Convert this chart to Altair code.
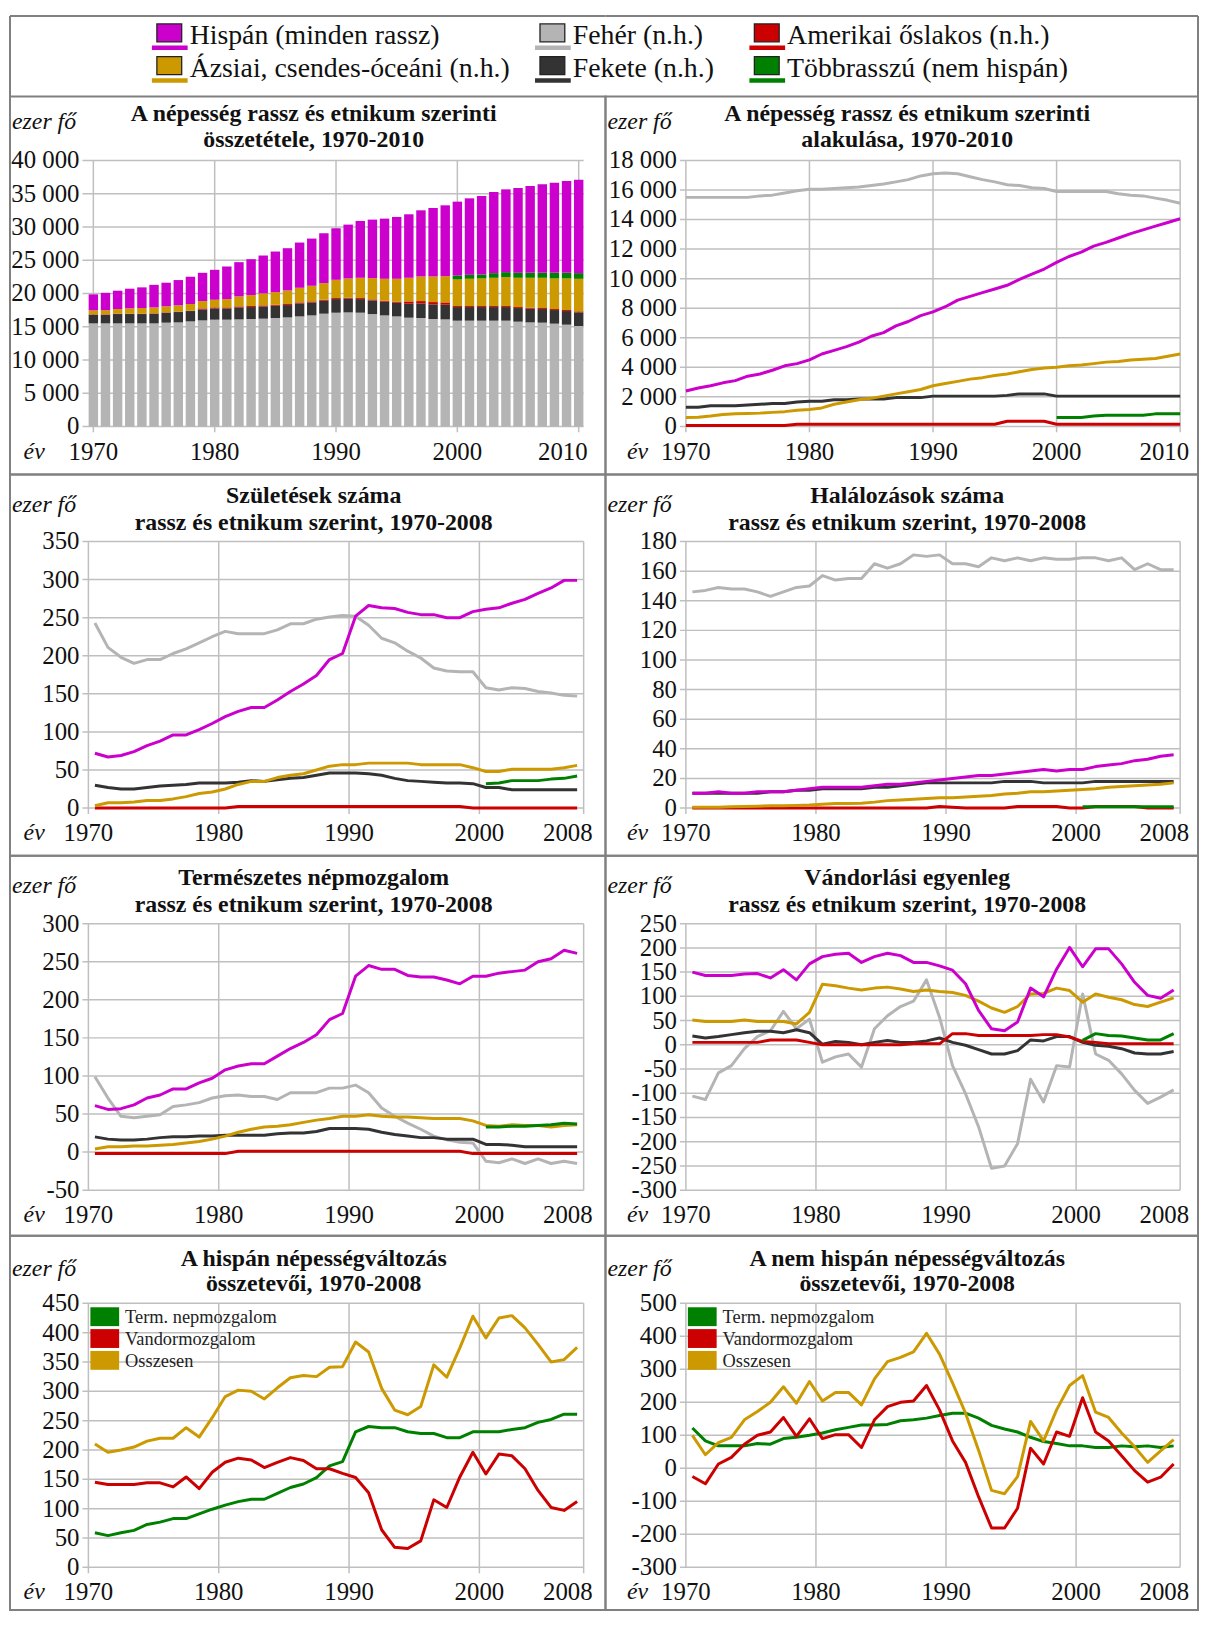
import altair as alt
import pandas as pd

# ---------------- data (thousand persons) ----------------
YEARS_POP = list(range(1970, 2011))          # 41 years, panels 1-2
YEARS_VIT = list(range(1970, 2008))          # 38 categories, panels 3-8

HISP = "Hispán (minden rassz)"
ASIAN = "Ázsiai, csendes-óceáni (n.h.)"
WHITE = "Fehér (n.h.)"
BLACK = "Fekete (n.h.)"
AMIND = "Amerikai őslakos (n.h.)"
MULTI = "Többrasszú (nem hispán)"
LEGEND_ORDER = [HISP, WHITE, AMIND, ASIAN, BLACK, MULTI]
DRAW_ORDER = [WHITE, BLACK, AMIND, ASIAN, MULTI, HISP]
COLORS = {HISP: "#CC00CC", ASIAN: "#CC9900", WHITE: "#B4B4B4",
          BLACK: "#333333", AMIND: "#CC0000", MULTI: "#008000"}

MULTI_FIRST_YEAR = 2000

POP = {
    WHITE: [15500, 15500, 15500, 15500, 15500, 15500, 15600, 15650, 15800, 15950,
            16050, 16050, 16100, 16150, 16200, 16300, 16400, 16550, 16700, 16950,
            17100, 17150, 17100, 16900, 16700, 16550, 16350, 16300, 16150, 16100,
            15900, 15900, 15900, 15900, 15900, 15750, 15650, 15600, 15450, 15300, 15100],
    BLACK: [1300, 1300, 1400, 1400, 1400, 1450, 1500, 1550, 1550, 1650,
            1700, 1700, 1800, 1800, 1850, 1850, 1850, 1950, 1950, 1950,
            2050, 2050, 2050, 2050, 2050, 2050, 2100, 2200, 2200, 2200,
            2050, 2050, 2050, 2050, 2050, 2050, 2050, 2050, 2050, 2050, 2050],
    AMIND: [60, 60, 60, 60, 60, 60, 60, 60, 60, 150,
            150, 150, 150, 150, 150, 150, 150, 150, 150, 150,
            150, 150, 150, 150, 150, 150, 350, 350, 350, 350,
            150, 150, 150, 150, 150, 150, 150, 150, 150, 150, 150],
    ASIAN: [600, 620, 700, 800, 850, 880, 900, 950, 1000, 1100,
            1150, 1250, 1500, 1650, 1800, 1900, 2050, 2200, 2350, 2500,
            2750, 2900, 3050, 3200, 3300, 3450, 3550, 3700, 3850, 3950,
            4000, 4100, 4150, 4250, 4350, 4400, 4500, 4550, 4600, 4750, 4900],
    MULTI: [600, 600, 600, 700, 750, 750, 750, 750, 850, 850, 850],
    HISP: [2400, 2600, 2750, 2950, 3100, 3400, 3550, 3800, 4100, 4250,
           4500, 4900, 5150, 5400, 5700, 6100, 6350, 6800, 7100, 7500,
           7750, 8100, 8550, 8800, 9050, 9300, 9550, 9950, 10300, 10650,
           11100, 11500, 11800, 12200, 12450, 12750, 13050, 13300, 13550, 13800, 14050],
}

BIRTHS = {
    WHITE: [243, 211, 198, 190, 195, 195, 203, 209, 217, 225,
            232, 229, 229, 229, 234, 242, 242, 248, 251, 253,
            252, 240, 223, 217, 206, 197, 184, 180, 179, 179,
            158, 155, 158, 157, 153, 151, 148, 147],
    BLACK: [30, 27, 25, 25, 27, 29, 30, 31, 33, 33,
            33, 34, 36, 35, 37, 39, 40, 43, 46, 46,
            46, 45, 43, 39, 36, 35, 34, 33, 33, 32,
            27, 27, 24, 24, 24, 24, 24, 24],
    AMIND: [0, 0, 0, 0, 0, 0, 0, 0, 0, 0,
            0, 2, 2, 2, 2, 2, 2, 2, 2, 2,
            2, 2, 2, 2, 2, 2, 2, 2, 2, 0,
            0, 0, 0, 0, 0, 0, 0, 0],
    ASIAN: [3, 7, 7, 8, 10, 10, 12, 15, 19, 21,
            25, 31, 35, 35, 40, 43, 45, 50, 55, 57,
            57, 59, 59, 59, 59, 57, 57, 57, 57, 53,
            48, 48, 51, 51, 51, 51, 53, 56],
    MULTI: [32, 33, 36, 36, 36, 38, 39, 42],
    HISP: [72, 67, 69, 74, 82, 88, 96, 96, 103, 111,
           120, 127, 132, 132, 142, 153, 163, 174, 195, 203,
           252, 266, 263, 262, 257, 254, 254, 250, 250, 258,
           261, 263, 269, 274, 282, 289, 299, 299],
}

DEATHS = {
    WHITE: [146, 147, 149, 148, 148, 146, 143, 146, 149, 150,
            157, 154, 155, 155, 165, 162, 165, 171, 170, 171,
            165, 165, 163, 169, 167, 169, 167, 169, 168, 168,
            169, 169, 167, 169, 161, 165, 161, 161],
    BLACK: [10, 10, 10, 10, 10, 10, 11, 11, 12, 12,
            13, 13, 13, 13, 14, 14, 15, 16, 17, 17,
            17, 17, 17, 17, 18, 18, 18, 17, 17, 17,
            17, 18, 18, 18, 18, 18, 18, 18],
    AMIND: [0, 0, 0, 0, 0, 0, 0, 0, 0, 0,
            0, 0, 0, 0, 0, 0, 0, 0, 0, 1,
            0.5, 0, 0, 0, 0, 1, 1, 1, 1, 0,
            0, 1, 1, 1, 1, 0, 0, 0],
    ASIAN: [0.5, 0.5, 0.5, 0.8, 1, 1.2, 1.5, 1.5, 1.8, 2,
            2.5, 3, 3, 3.2, 4, 5, 5.5, 6, 6.5, 7,
            7, 7.5, 8, 8.5, 9.5, 10, 11, 11, 11.5, 12,
            12.5, 13, 14, 14.5, 15, 15.5, 16, 17],
    MULTI: [0.8, 0.8, 0.8, 0.8, 0.8, 0.8, 0.8, 0.8],
    HISP: [10, 10, 11, 10, 10, 11, 11, 11, 12, 13,
           14, 14, 14, 14, 15, 16, 16, 17, 18, 19,
           20, 21, 22, 22, 23, 24, 25, 26, 25, 26,
           26, 28, 29, 30, 32, 33, 35, 36],
}

NATURAL = {
    WHITE: [99, 71, 47, 45, 47, 49, 60, 62, 65, 71,
            74, 75, 73, 73, 69, 78, 78, 78, 84, 84,
            88, 78, 58, 47, 38, 30, 21, 16, 13, 12,
            -12, -14, -9, -15, -9, -15, -12, -15],
    BLACK: [20, 17, 16, 16, 17, 19, 20, 20, 21, 21,
            22, 22, 22, 22, 24, 25, 25, 27, 31, 31,
            31, 30, 26, 23, 21, 19, 19, 17, 17, 17,
            10, 10, 9, 7, 7, 7, 7, 7],
    AMIND: [-2, -2, -2, -2, -2, -2, -2, -2, -2, -2,
            -2, 1, 1, 1, 1, 1, 1, 1, 1, 1,
            1, 1, 1, 1, 1, 1, 1, 1, 1, -2,
            -2, -2, -2, -2, -2, -2, -2, -2],
    ASIAN: [4, 7, 7, 8, 8, 9, 10, 12, 14, 17,
            21, 26, 30, 33, 34, 36, 39, 42, 44, 47,
            47, 49, 47, 46, 46, 45, 44, 44, 44, 41,
            35, 34, 36, 35, 35, 33, 35, 36],
    MULTI: [33, 33, 34, 34, 35, 36, 38, 37],
    HISP: [61, 56, 57, 62, 71, 75, 83, 83, 91, 97,
           108, 113, 116, 116, 126, 136, 144, 154, 174, 182,
           231, 245, 240, 240, 232, 230, 230, 226, 221, 231,
           231, 235, 237, 239, 250, 254, 265, 261],
}

MIGRATION = {
    WHITE: [-106, -113, -58, -43, -8, 17, 29, 69, 33, 53,
            -36, -25, -19, -46, 33, 60, 79, 90, 134, 57,
            -43, -101, -169, -255, -250, -204, -71, -118, -43, -46,
            105, -19, -32, -60, -94, -121, -108, -93],
    BLACK: [18, 14, 17, 21, 25, 28, 28, 25, 31, 25,
            1, 7, 5, 0, 5, 9, 5, 5, 8, 14,
            5, -1, -10, -19, -19, -12, 10, 8, 17, 17,
            5, -1, -3, -8, -17, -19, -19, -14],
    AMIND: [5, 5, 5, 5, 5, 5, 10, 10, 10, 5,
            0, 0, 0, 0, 0, 0, 0, 2, 2, 2,
            23, 23, 19, 19, 19, 19, 19, 21, 21, 16,
            7, 5, 2, 2, 2, 2, 2, 2],
    ASIAN: [51, 48, 48, 48, 51, 48, 48, 48, 43, 67,
            125, 122, 117, 113, 117, 119, 115, 110, 113, 110,
            108, 102, 90, 76, 67, 79, 105, 106, 117, 112,
            88, 105, 98, 93, 83, 79, 88, 97],
    MULTI: [9, 23, 19, 18, 14, 10, 10, 23],
    HISP: [150, 143, 143, 143, 146, 147, 138, 155, 134, 167,
           182, 187, 189, 170, 182, 189, 184, 170, 170, 163,
           154, 126, 71, 33, 29, 47, 117, 99, 156, 201,
           161, 198, 198, 167, 129, 102, 96, 113],
}

COMP_NAMES = ["Term. nepmozgalom", "Vandormozgalom", "Osszesen"]
COMP_COLORS = ["#008000", "#CC0000", "#CC9900"]
HISP_COMP = {
    "Term. nepmozgalom": [59, 54, 59, 63, 73, 77, 83, 83, 91, 99,
                          106, 112, 116, 116, 126, 136, 142, 153, 173, 180,
                          231, 240, 238, 238, 231, 228, 228, 221, 221, 231,
                          231, 231, 235, 238, 247, 252, 261, 261],
    "Vandormozgalom": [145, 141, 141, 141, 144, 144, 137, 154, 134, 162,
                       179, 186, 183, 170, 179, 187, 182, 168, 168, 160,
                       153, 127, 64, 34, 32, 45, 115, 102, 154, 196,
                       159, 193, 190, 168, 131, 102, 97, 112],
    "Osszesen": [210, 196, 200, 205, 215, 220, 220, 238, 222, 255,
                 291, 302, 300, 287, 306, 323, 327, 325, 341, 342,
                 384, 367, 305, 268, 260, 274, 345, 324, 374, 428,
                 391, 425, 429, 408, 380, 350, 354, 375],
}
NONHISP_COMP = {
    "Term. nepmozgalom": [122, 83, 68, 68, 68, 75, 73, 90, 94, 100,
                          107, 117, 124, 131, 131, 133, 144, 147, 152, 160,
                          167, 167, 152, 130, 119, 110, 94, 81, 75, 68,
                          68, 63, 63, 68, 65, 68, 63, 68],
    "Vandormozgalom": [-25, -47, 13, 33, 73, 100, 110, 154, 97, 150,
                       90, 102, 102, 63, 147, 187, 200, 204, 251, 177,
                       83, 18, -86, -181, -181, -121, 61, 13, 110, 97,
                       214, 110, 83, 38, -7, -42, -27, 13],
    "Osszesen": [100, 41, 78, 94, 147, 172, 200, 247, 197, 263,
                 204, 230, 230, 192, 271, 323, 336, 353, 409, 346,
                 259, 167, 55, -67, -77, -25, 142, 83, 177, 251,
                 281, 170, 154, 107, 65, 18, 53, 87],
}

TITLES = [
    ["A népesség rassz és etnikum szerinti", "összetétele, 1970-2010"],
    ["A népesség rassz és etnikum szerinti", "alakulása, 1970-2010"],
    ["Születések száma", "rassz és etnikum szerint, 1970-2008"],
    ["Halálozások száma", "rassz és etnikum szerint, 1970-2008"],
    ["Természetes népmozgalom", "rassz és etnikum szerint, 1970-2008"],
    ["Vándorlási egyenleg", "rassz és etnikum szerint, 1970-2008"],
    ["A hispán népességváltozás", "összetevői, 1970-2008"],
    ["A nem hispán népességváltozás", "összetevői, 1970-2008"],
]

def thousands(v):
    s = f"{abs(v):,}".replace(",", " ")
    return ("-" if v < 0 else "") + s

Y_TICKS = [
    list(range(0, 40001, 5000)),
    list(range(0, 18001, 2000)),
    list(range(0, 351, 50)),
    list(range(0, 181, 20)),
    list(range(-50, 301, 50)),
    list(range(-300, 251, 50)),
    list(range(0, 451, 50)),
    list(range(-300, 501, 100)),
]
X_LABELS_POP = ["1970", "1980", "1990", "2000", "2010"]
X_TICKS_POP = [1970, 1980, 1990, 2000, 2010]
X_LABELS_VIT = ["1970", "1980", "1990", "2000", "2008"]
X_TICKS_VIT = [1969.5, 1979.5, 1989.5, 1999.5, 2007.5]   # category boundaries

# ---------------- style / layout ----------------
FONT = "Liberation Serif"
GRID = "#BFBFBF"
TXT = "#111111"
BORDER = "#808080"
W_L, W_R = 600, 597
H_HEAD = 81
ROW_H = [381, 384, 383, 377]
ROW_Y = [(64.5, 332.5), (67.5, 336), (68.5, 337), (68, 334)]
ROW_TY = [(18, 43.5), (21.5, 49), (22.5, 49.5), (23, 49)]
ROW_EZ = [26, 30.5, 30.5, 33]
ROW_XGAP = [26, 25, 25, 25]
TICK_FS = 25


def frame(idx, x_dom, x_ticks, x_labels):
    row, col = idx // 2, idx % 2
    W = W_L if col == 0 else W_R
    H = ROW_H[row]
    x0, x1 = (79, 578) if col == 0 else (81, 579)
    y0, y1 = ROW_Y[row]
    xgap = ROW_XGAP[row]
    yt = Y_TICKS[idx]
    xs = alt.Scale(domain=x_dom, range=[x0, x1], nice=False, zero=False)
    ys = alt.Scale(domain=[yt[0], yt[-1]], range=[y1, y0], nice=False, zero=False)
    gy = pd.DataFrame({"v": yt, "lab": [thousands(v) for v in yt]})
    gx = pd.DataFrame({"v": x_ticks, "lab": x_labels})
    ext = 6 if yt[0] == 0 else 0
    L = [
        alt.Chart(gy).mark_rule(color=GRID, strokeWidth=1.5).encode(
            y=alt.Y("v:Q", scale=ys, axis=None), x=alt.value(x0 - 6), x2=alt.value(x1)),
        alt.Chart(gx).mark_rule(color=GRID, strokeWidth=1.5).encode(
            x=alt.X("v:Q", scale=xs, axis=None), y=alt.value(y0), y2=alt.value(y1 + ext)),
        alt.Chart(gy).mark_text(align="right", baseline="middle", font=FONT, fontSize=TICK_FS, color=TXT).encode(
            y=alt.Y("v:Q", scale=ys, axis=None), x=alt.value(x0 - 9), text="lab:N"),
        alt.Chart(gx.iloc[:-1]).mark_text(align="center", baseline="middle", font=FONT, fontSize=TICK_FS,
                                          color=TXT).encode(
            x=alt.X("v:Q", scale=xs, axis=None), y=alt.value(y1 + xgap), text="lab:N"),
        alt.Chart(gx.iloc[-1:]).mark_text(align="right", baseline="middle", font=FONT, fontSize=TICK_FS,
                                          color=TXT, dx=9).encode(
            x=alt.X("v:Q", scale=xs, axis=None), y=alt.value(y1 + xgap), text="lab:N"),
    ]
    one = pd.DataFrame({"k": [0]})
    tcx = 306 if col == 0 else 304
    for line, ty in zip(TITLES[idx], ROW_TY[row]):
        L.append(alt.Chart(one).mark_text(text=line, align="center", baseline="middle", font=FONT,
                                          fontSize=24, fontWeight="bold", color=TXT).encode(
            x=alt.value(tcx), y=alt.value(ty)))
    L.append(alt.Chart(one).mark_text(text="ezer fő", align="left", baseline="middle", font=FONT,
                                      fontSize=24, fontStyle="italic", color=TXT).encode(
        x=alt.value(2), y=alt.value(ROW_EZ[row])))
    ev_x = x0 - 44 if col == 0 else x0 - 38
    L.append(alt.Chart(one).mark_text(text="év", align="right", baseline="middle", font=FONT,
                                      fontSize=24, fontStyle="italic", color=TXT).encode(
        x=alt.value(ev_x), y=alt.value(y1 + xgap)))
    return L, xs, ys, W, H, (x0, x1, y0, y1)


def line_layer(years, vals, color, xs, ys, first=None):
    yrs = years if first is None else list(range(first, first + len(vals)))
    df = pd.DataFrame({"year": yrs, "value": vals})
    return alt.Chart(df).mark_line(color=color, strokeWidth=3, strokeJoin="round").encode(
        x=alt.X("year:Q", scale=xs, axis=None), y=alt.Y("value:Q", scale=ys, axis=None))


def race_panel(idx, data, years, x_dom, x_ticks, x_labels):
    L, xs, ys, W, H, _ = frame(idx, x_dom, x_ticks, x_labels)
    for s in DRAW_ORDER:
        first = MULTI_FIRST_YEAR if s == MULTI else None
        L.append(line_layer(years, data[s], COLORS[s], xs, ys, first))
    return alt.layer(*L).properties(width=W, height=H)


def bar_panel():
    L, xs, ys, W, H, _ = frame(0, [1970, 2010], X_TICKS_POP, X_LABELS_POP)
    rows = []
    for o, s in enumerate(DRAW_ORDER):
        vals = POP[s]
        yrs = YEARS_POP if s != MULTI else list(range(MULTI_FIRST_YEAR, MULTI_FIRST_YEAR + len(vals)))
        for y, v in zip(yrs, vals):
            rows.append({"year": y, "value": v, "series": s, "ord": o})
    df = pd.DataFrame(rows)
    L.insert(5, alt.Chart(df).mark_bar(size=9.5).encode(
        x=alt.X("year:Q", scale=xs, axis=None),
        y=alt.Y("value:Q", scale=ys, axis=None, stack="zero"),
        color=alt.Color("series:N", legend=None,
                        scale=alt.Scale(domain=DRAW_ORDER, range=[COLORS[s] for s in DRAW_ORDER])),
        order=alt.Order("ord:Q", sort="ascending")))
    return alt.layer(*L).properties(width=W, height=H)


def comp_panel(idx, data):
    L, xs, ys, W, H, (x0, x1, y0, y1) = frame(idx, [1969.5, 2007.5], X_TICKS_VIT, X_LABELS_VIT)
    for name, c in zip(COMP_NAMES, COMP_COLORS):
        L.append(line_layer(YEARS_VIT, data[name], c, xs, ys))
    one = pd.DataFrame({"k": [0]})
    for i, (name, c) in enumerate(zip(COMP_NAMES, COMP_COLORS)):
        top = y0 + 4 + 22 * i
        L.append(alt.Chart(one).mark_rect(color=c).encode(
            x=alt.value(x0 + 2), x2=alt.value(x0 + 31), y=alt.value(top), y2=alt.value(top + 19)))
        L.append(alt.Chart(one).mark_text(text=name, align="left", baseline="middle", font=FONT,
                                          fontSize=18.5, color="#222222").encode(
            x=alt.value(x0 + 37), y=alt.value(top + 10)))
    return alt.layer(*L).properties(width=W, height=H)


# ---------------- header legend (split into two halves of the grid) ----------------
SQ_LEFT = [148, 534, 750]


def header_half(side):
    W = W_L if side == 0 else W_R
    shift = 0 if side == 0 else W_L
    hrows = []
    for i, s in enumerate(LEGEND_ORDER):
        c, r = i % 3, i // 3
        in_left = c < 2
        if (side == 0) != in_left:
            continue
        top = 8 + 33 * r
        sx = SQ_LEFT[c] - shift
        hrows.append({"sx1": sx, "sx2": sx + 25, "sy1": top, "sy2": top + 18,
                      "lx1": sx - 5, "lx2": sx + 31, "ly": top + 24,
                      "tx": sx + 33, "ty": top + 12, "col": COLORS[s], "label": s})
    hdf = pd.DataFrame(hrows)
    one = pd.DataFrame({"k": [0]})
    edge_x = 0 if side == 0 else W
    layers = [
        alt.Chart(one).mark_rule(color=BORDER, strokeWidth=2).encode(
            x=alt.value(0), x2=alt.value(W), y=alt.value(0)),
        alt.Chart(one).mark_rule(color=BORDER, strokeWidth=2).encode(
            x=alt.value(edge_x), y=alt.value(0), y2=alt.value(H_HEAD)),
        alt.Chart(hdf).mark_rule(strokeWidth=4.5).encode(
            x=alt.X("lx1:Q", scale=None), x2="lx2:Q", y=alt.Y("ly:Q", scale=None),
            color=alt.Color("col:N", scale=None)),
        alt.Chart(hdf).mark_rect(stroke="#222222", strokeWidth=1.3).encode(
            x=alt.X("sx1:Q", scale=None), x2="sx2:Q", y=alt.Y("sy1:Q", scale=None), y2="sy2:Q",
            color=alt.Color("col:N", scale=None)),
        alt.Chart(hdf).mark_text(align="left", baseline="middle", font=FONT, fontSize=28, color=TXT).encode(
            x=alt.X("tx:Q", scale=None), y=alt.Y("ty:Q", scale=None), text="label:N"),
    ]
    return alt.layer(*layers).properties(width=W, height=H_HEAD,
                                         view=alt.ViewBackground(stroke=None))


p1 = bar_panel()
p2 = race_panel(1, POP, YEARS_POP, [1970, 2010], X_TICKS_POP, X_LABELS_POP)
p3 = race_panel(2, BIRTHS, YEARS_VIT, [1969.5, 2007.5], X_TICKS_VIT, X_LABELS_VIT)
p4 = race_panel(3, DEATHS, YEARS_VIT, [1969.5, 2007.5], X_TICKS_VIT, X_LABELS_VIT)
p5 = race_panel(4, NATURAL, YEARS_VIT, [1969.5, 2007.5], X_TICKS_VIT, X_LABELS_VIT)
p6 = race_panel(5, MIGRATION, YEARS_VIT, [1969.5, 2007.5], X_TICKS_VIT, X_LABELS_VIT)
p7 = comp_panel(6, HISP_COMP)
p8 = comp_panel(7, NONHISP_COMP)

chart = alt.concat(header_half(0), header_half(1), p1, p2, p3, p4, p5, p6, p7, p8,
                   columns=2, spacing=0, bounds="flush",
                   padding={"left": 1, "top": 1, "right": 1, "bottom": 1},
                   background="white").configure_view(stroke=BORDER, strokeWidth=2)

chart.save("out.html", embed_options={"renderer": "svg", "actions": False})
